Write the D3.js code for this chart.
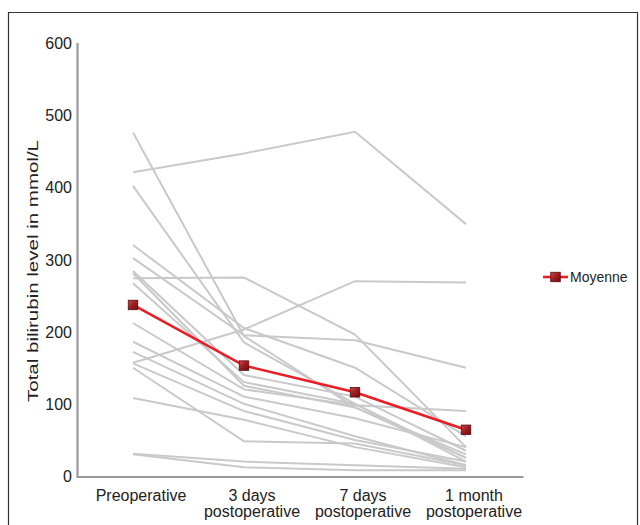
<!DOCTYPE html>
<html>
<head>
<meta charset="utf-8">
<script src="https://cdn.jsdelivr.net/npm/d3@7"></script>
<style>
body{margin:0;padding:0;background:#fff;}
svg{display:block;font-family:"Liberation Sans",Arial,sans-serif;}
</style>
</head>
<body>
<svg id="chart" width="640" height="525"></svg>
<script>
const categories = ["Preoperative", "3 days\npostoperative", "7 days\npostoperative", "1 month\npostoperative"];
const yTicks = [0, 100, 200, 300, 400, 500, 600];
// individual patients (preop, 3 days, 7 days, 1 month)
const p01 = [421, 447, 477, 349];
const p02 = [476, 194, 95, 25];
const p03 = [402, 185, 100, 20];
const p04 = [320, 205, 150, 55];
const p05 = [302, 195, 188, 150];
const p06 = [274, 275, 196, 40];
const p07 = [157, 203, 270, 268];
const p08 = [284, 140, 110, 35];
const p09 = [281, 125, 95, 30];
const p10 = [267, 130, 100, 25];
const p11 = [212, 120, 98, 90];
const p12 = [186, 110, 80, 40];
const p13 = [172, 100, 55, 15];
const p14 = [156, 90, 50, 20];
const p15 = [150, 48, 45, 15];
const p16 = [108, 78, 40, 12];
const p17 = [31, 20, 15, 10];
const p18 = [30, 12, 8, 8];
const patients = [p01,p02,p03,p04,p05,p06,p07,p08,p09,p10,p11,p12,p13,p14,p15,p16,p17,p18];
const meanLabel = "Moyenne";
const meanValues = [237, 153, 116, 64];

const svg = d3.select("#chart");
const mLeft = 77.5, mRight = 521.5, mTop = 43, mBottom = 476;

// frame
svg.append("path").attr("d", "M8.5,525 V12.5 H637.5 V525").attr("fill","none").attr("stroke","#333").attr("stroke-width",1.2);

const x = d3.scaleBand().domain(categories).range([mLeft, mRight]);
const y = d3.scaleLinear().domain([0, 600]).range([mBottom, mTop]);
const cx = c => x(c) + x.bandwidth()/2;

// axes lines
svg.append("line").attr("x1", mLeft).attr("x2", mLeft).attr("y1", y(600)).attr("y2", mBottom+1)
  .attr("stroke","#9a9a9a").attr("stroke-width",2.2);
svg.append("line").attr("x1", mLeft-1).attr("x2", mRight+2).attr("y1", mBottom+1).attr("y2", mBottom+1)
  .attr("stroke","#9a9a9a").attr("stroke-width",2.2);

// y tick labels
svg.selectAll(".ytl").data(yTicks).enter().append("text")
  .attr("x", 72).attr("y", d => y(d) + 6)
  .attr("text-anchor","end").attr("font-size",16).attr("fill","#222").text(d => d);

// x tick labels
categories.forEach(c => {
  const lines = c.split("\n");
  const lx = cx(c) + 8;
  const t = svg.append("text").attr("x", lx).attr("y", 501).attr("text-anchor","middle")
    .attr("font-size",16).attr("fill","#222");
  lines.forEach((l,i) => t.append("tspan").attr("x", lx).attr("dy", i === 0 ? 0 : 16).text(l));
});

// y label
svg.append("text").attr("transform", `translate(38,271) rotate(-90)`)
  .attr("text-anchor","middle").attr("font-size",15).attr("fill","#222")
  .attr("textLength", 262).attr("lengthAdjust","spacingAndGlyphs")
  .text("Total bilirubin level in mmol/L");

const line = d3.line().x((d,i) => cx(categories[i])).y(d => y(d));

svg.append("g").selectAll("path").data(patients).enter().append("path")
  .attr("d", line).attr("fill","none").attr("stroke","#c9c9c9").attr("stroke-width",2);

// gradient for markers
const defs = svg.append("defs");
const g = defs.append("linearGradient").attr("id","mg").attr("x1","0").attr("y1","0").attr("x2","1").attr("y2","1");
g.append("stop").attr("offset","0%").attr("stop-color","#d0484a");
g.append("stop").attr("offset","50%").attr("stop-color","#9c1c20");
g.append("stop").attr("offset","100%").attr("stop-color","#6e0d10");

svg.append("path").datum(meanValues).attr("d", line).attr("fill","none")
  .attr("stroke","#ec1c24").attr("stroke-width",2.6);

const ms = 9.5;
svg.append("g").selectAll("rect").data(meanValues).enter().append("rect")
  .attr("x", (d,i) => cx(categories[i]) - ms/2).attr("y", d => y(d) - ms/2)
  .attr("width", ms).attr("height", ms).attr("fill","url(#mg)").attr("stroke","#5a0a0c").attr("stroke-width",0.8);

// legend
const ly = 277;
svg.append("line").attr("x1",543).attr("x2",568).attr("y1",ly).attr("y2",ly).attr("stroke","#ec1c24").attr("stroke-width",2.6);
svg.append("rect").attr("x",555.5-ms/2).attr("y",ly-ms/2).attr("width",ms).attr("height",ms)
  .attr("fill","url(#mg)").attr("stroke","#5a0a0c").attr("stroke-width",0.8);
svg.append("text").attr("x",570).attr("y",ly+5).attr("font-size",14).attr("fill","#222").text(meanLabel);
</script>
</body>
</html>
